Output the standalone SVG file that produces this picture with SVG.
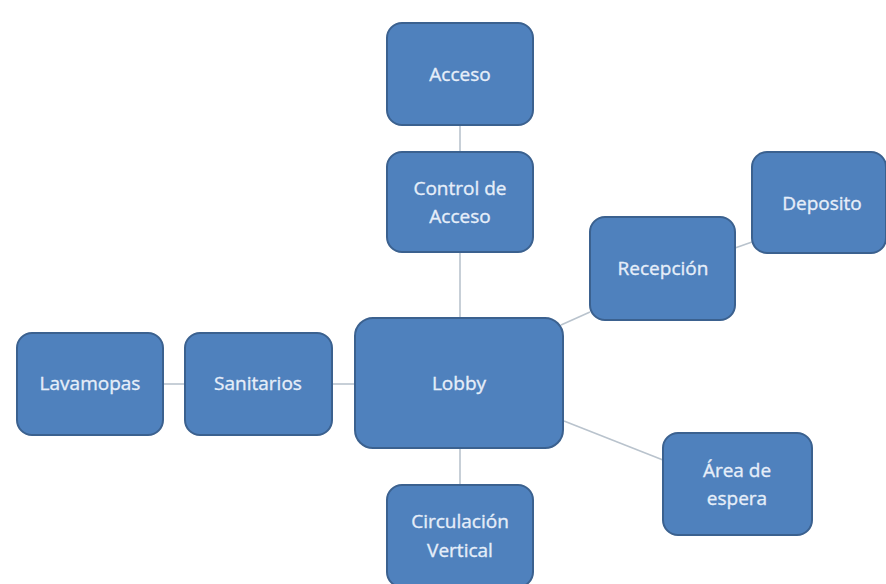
<svg xmlns="http://www.w3.org/2000/svg" width="886" height="584" viewBox="0 0 886 584">
  <style>
    .box { fill: #4f81bd; stroke: #3b618f; stroke-width: 2; }
    .lbl { font-family: "Open Sans", "Liberation Sans", sans-serif; font-size: 19px; fill: #e6eef9; stroke: #e6eef9; stroke-width: 0.35; text-anchor: middle; }
    .link { stroke: #b9c3cd; stroke-width: 1.6; fill: none; }
  </style>
  <rect width="886" height="584" fill="#ffffff"/>

  <g id="connectors">
    <line class="link" x1="460" y1="125" x2="460" y2="152"/>
    <line class="link" x1="460" y1="252" x2="460" y2="318"/>
    <line class="link" x1="460" y1="448" x2="460" y2="485"/>
    <line class="link" x1="163" y1="384" x2="185" y2="384"/>
    <line class="link" x1="332" y1="384" x2="355" y2="384"/>
    <line class="link" x1="561" y1="325" x2="590" y2="312"/>
    <line class="link" x1="735" y1="248" x2="752" y2="242"/>
    <line class="link" x1="564" y1="421" x2="663" y2="460"/>
  </g>

  <g id="acceso">
    <rect class="box" x="387" y="23" width="146" height="102" rx="15"/>
    <text class="lbl" x="460" y="81">Acceso</text>
  </g>
  <g id="control-acceso">
    <rect class="box" x="387" y="152" width="146" height="100" rx="15"/>
    <text class="lbl" x="460" y="195">Control de</text>
    <text class="lbl" x="460" y="223">Acceso</text>
  </g>
  <g id="lobby">
    <rect class="box" x="355" y="318" width="208" height="130" rx="18"/>
    <text class="lbl" x="459" y="390">Lobby</text>
  </g>
  <g id="circulacion-vertical">
    <rect class="box" x="387" y="485" width="146" height="102" rx="15"/>
    <text class="lbl" x="460" y="528">Circulación</text>
    <text class="lbl" x="460" y="557">Vertical</text>
  </g>
  <g id="lavamopas">
    <rect class="box" x="17" y="333" width="146" height="102" rx="15"/>
    <text class="lbl" x="90" y="390">Lavamopas</text>
  </g>
  <g id="sanitarios">
    <rect class="box" x="185" y="333" width="147" height="102" rx="15"/>
    <text class="lbl" x="258" y="390">Sanitarios</text>
  </g>
  <g id="recepcion">
    <rect class="box" x="590" y="217" width="145" height="103" rx="15"/>
    <text class="lbl" x="663" y="275">Recepción</text>
  </g>
  <g id="deposito">
    <rect class="box" x="752" y="152" width="134" height="101" rx="15"/>
    <text class="lbl" x="822" y="210">Deposito</text>
  </g>
  <g id="area-espera">
    <rect class="box" x="663" y="433" width="149" height="102" rx="15"/>
    <text class="lbl" x="737" y="477">Área de</text>
    <text class="lbl" x="737" y="505">espera</text>
  </g>
</svg>
